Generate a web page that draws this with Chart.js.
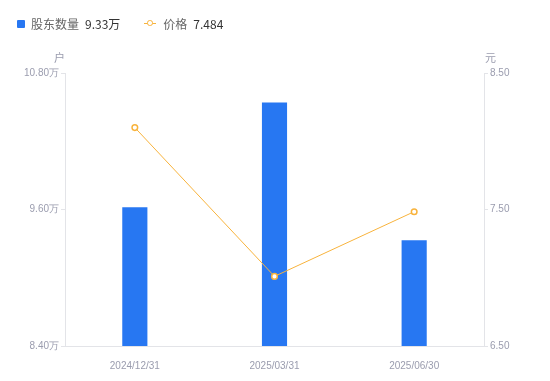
<!DOCTYPE html>
<html>
<head>
<meta charset="utf-8">
<script src="https://cdn.jsdelivr.net/npm/chart.js@4/dist/chart.umd.min.js"></script>
<style>
  html, body { margin: 0; padding: 0; background: #fff; }
  #wrap { position: relative; width: 550px; height: 381px; font-family: "Noto Sans CJK SC", "Noto Sans", sans-serif; }
  #legend { position: absolute; left: 17px; top: 15px; font-size: 12px; color: #333; display: flex; align-items: center; white-space: nowrap; }
  .item { display: flex; align-items: center; margin-right: 24px; }
  .sq { width: 8px; height: 8px; background: #2777f2; border-radius: 1px; margin-right: 6px; }
  .ln { position: relative; width: 12px; height: 8px; margin-right: 7px; }
  .ln:before { content: ""; position: absolute; left: 0; right: 0; top: 3px; height: 1.5px; background: #f8b33c; }
  .ln:after { content: ""; position: absolute; left: 3px; top: 0.5px; width: 3.5px; height: 3.5px; border: 1.5px solid #f8b33c; border-radius: 50%; background: #fff; }
  .nm { color: #666; margin-right: 6px; }
  .vl { color: #333; }
  canvas { position: absolute; left: 0; top: 0; }
</style>
</head>
<body>
<div id="wrap">
  <canvas id="c" width="550" height="381"></canvas>
  <div id="legend"></div>
</div>
<script>
const categories = ["2024/12/31", "2025/03/31", "2025/06/30"];
const holders = [9.62, 10.54, 9.33];      // 万户
const prices = [8.10, 7.01, 7.484];       // 元
const leftTicks = [8.40, 9.60, 10.80];
const rightTicks = [6.50, 7.50, 8.50];
const seriesNames = ["股东数量", "价格"];
const legendValues = ["9.33万", "7.484"];
const axisTitles = ["户", "元"];

const BLUE = "#2777f2";
const ORANGE = "#f8b33c";
const GRAY_TEXT = "#9a9cae";
const AXIS = "#e3e4e8";

document.getElementById("legend").innerHTML =
  '<span class="item"><span class="sq"></span><span class="nm">' + seriesNames[0] + '</span><span class="vl">' + legendValues[0] + '</span></span>' +
  '<span class="item"><span class="ln"></span><span class="nm">' + seriesNames[1] + '</span><span class="vl">' + legendValues[1] + '</span></span>';

const titlePlugin = {
  id: "axisTitles",
  afterDraw(chart) {
    const ctx = chart.ctx;
    const a = chart.chartArea;
    ctx.save();
    ctx.font = '11px "Noto Sans CJK SC", sans-serif';
    ctx.fillStyle = GRAY_TEXT;
    ctx.textBaseline = "bottom";
    ctx.textAlign = "right";
    ctx.fillText(axisTitles[0], a.left, a.top - 10);
    ctx.textAlign = "left";
    ctx.fillText(axisTitles[1], a.right + 1, a.top - 10);
    ctx.restore();
  }
};

function fixedTicks(values) {
  return function(scale) {
    scale.ticks = values.map(v => ({ value: v }));
  };
}

new Chart(document.getElementById("c"), {
  data: {
    labels: categories,
    datasets: [
      {
        type: "line",
        label: seriesNames[1],
        data: prices,
        yAxisID: "y1",
        borderColor: ORANGE,
        borderWidth: 1,
        pointRadius: 2.8,
        pointBorderWidth: 1.5,
        pointBackgroundColor: "#fff",
        pointBorderColor: ORANGE,
        tension: 0,
        order: 0
      },
      {
        type: "bar",
        label: seriesNames[0],
        data: holders,
        yAxisID: "y",
        backgroundColor: BLUE,
        barPercentage: 0.18,
        categoryPercentage: 1,
        order: 1
      }
    ]
  },
  options: {
    responsive: false,
    animation: false,
    layout: { padding: { top: 73, left: 0, right: 0, bottom: 0 } },
    plugins: { legend: { display: false }, tooltip: { enabled: false } },
    scales: {
      x: {
        offset: true,
        grid: { display: false },
        border: { color: AXIS, width: 1 },
        ticks: { color: GRAY_TEXT, font: { size: 10, family: "Liberation Sans, Arial, sans-serif" }, padding: 6, maxRotation: 0 },
        afterFit(s) { s.height = 35; }
      },
      y: {
        position: "left",
        min: leftTicks[0],
        max: leftTicks[leftTicks.length - 1],
        afterBuildTicks: fixedTicks(leftTicks),
        grid: { display: true, drawOnChartArea: false, drawTicks: true, tickLength: 4, color: AXIS },
        border: { color: AXIS, width: 1 },
        ticks: {
          color: GRAY_TEXT,
          font: { size: 10, family: "Liberation Sans, Arial, sans-serif" },
          padding: 2,
          callback: v => v.toFixed(2) + "万"
        },
        afterFit(s) { s.width = 65; }
      },
      y1: {
        position: "right",
        min: rightTicks[0],
        max: rightTicks[rightTicks.length - 1],
        afterBuildTicks: fixedTicks(rightTicks),
        grid: { display: true, drawOnChartArea: false, drawTicks: true, tickLength: 4, color: AXIS },
        border: { color: AXIS, width: 1 },
        ticks: {
          color: GRAY_TEXT,
          font: { size: 10, family: "Liberation Sans, Arial, sans-serif" },
          padding: 2,
          callback: v => v.toFixed(2)
        },
        afterFit(s) { s.width = 66; }
      }
    }
  },
  plugins: [titlePlugin]
});
</script>
</body>
</html>
